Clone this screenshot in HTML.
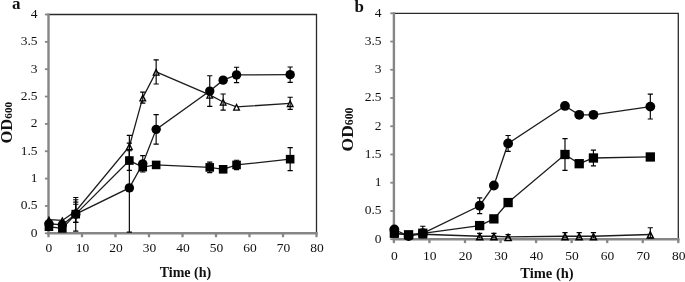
<!DOCTYPE html>
<html><head><meta charset="utf-8"><title>chart</title>
<style>
html,body{margin:0;padding:0;background:#fff;}
body{width:685px;height:282px;overflow:hidden;}
svg{display:block;will-change:transform;}
text{font-family:"Liberation Serif",serif;fill:#111;}
.tk{font-size:13.5px;}
.al{font-weight:bold;}
.od{font-size:15.3px;}
.pl{font-size:17px;font-weight:bold;}
</style></head><body>
<svg width="685" height="282" viewBox="0 0 685 282">
<rect width="685" height="282" fill="#fff"/>
<path d="M47.5,14.5 H316.5 V233.3" fill="none" stroke="#2a2a2a" stroke-width="1.3"/>
<path d="M48.5,13.6 V234.3" fill="none" stroke="#868686" stroke-width="2.4"/>
<path d="M47.3,233.3 H317.7" fill="none" stroke="#868686" stroke-width="2.6"/>
<path d="M44.9,233.30 H48.5" stroke="#868686" stroke-width="1.8"/>
<text x="37.6" y="236.60" text-anchor="end" class="tk">0</text>
<path d="M44.9,205.95 H48.5" stroke="#868686" stroke-width="1.8"/>
<text x="37.6" y="209.25" text-anchor="end" class="tk">0.5</text>
<path d="M44.9,178.60 H48.5" stroke="#868686" stroke-width="1.8"/>
<text x="37.6" y="181.90" text-anchor="end" class="tk">1</text>
<path d="M44.9,151.25 H48.5" stroke="#868686" stroke-width="1.8"/>
<text x="37.6" y="154.55" text-anchor="end" class="tk">1.5</text>
<path d="M44.9,123.90 H48.5" stroke="#868686" stroke-width="1.8"/>
<text x="37.6" y="127.20" text-anchor="end" class="tk">2</text>
<path d="M44.9,96.55 H48.5" stroke="#868686" stroke-width="1.8"/>
<text x="37.6" y="99.85" text-anchor="end" class="tk">2.5</text>
<path d="M44.9,69.20 H48.5" stroke="#868686" stroke-width="1.8"/>
<text x="37.6" y="72.50" text-anchor="end" class="tk">3</text>
<path d="M44.9,41.85 H48.5" stroke="#868686" stroke-width="1.8"/>
<text x="37.6" y="45.15" text-anchor="end" class="tk">3.5</text>
<path d="M44.9,14.50 H48.5" stroke="#868686" stroke-width="1.8"/>
<text x="37.6" y="17.80" text-anchor="end" class="tk">4</text>
<path d="M48.50,233.3 V237.20000000000002" stroke="#868686" stroke-width="2.3"/>
<text x="48.90" y="252.3" text-anchor="middle" class="tk">0</text>
<path d="M82.00,233.3 V237.20000000000002" stroke="#868686" stroke-width="2.3"/>
<text x="82.40" y="252.3" text-anchor="middle" class="tk">10</text>
<path d="M115.50,233.3 V237.20000000000002" stroke="#868686" stroke-width="2.3"/>
<text x="115.90" y="252.3" text-anchor="middle" class="tk">20</text>
<path d="M149.00,233.3 V237.20000000000002" stroke="#868686" stroke-width="2.3"/>
<text x="149.40" y="252.3" text-anchor="middle" class="tk">30</text>
<path d="M182.50,233.3 V237.20000000000002" stroke="#868686" stroke-width="2.3"/>
<text x="182.90" y="252.3" text-anchor="middle" class="tk">40</text>
<path d="M216.00,233.3 V237.20000000000002" stroke="#868686" stroke-width="2.3"/>
<text x="216.40" y="252.3" text-anchor="middle" class="tk">50</text>
<path d="M249.50,233.3 V237.20000000000002" stroke="#868686" stroke-width="2.3"/>
<text x="249.90" y="252.3" text-anchor="middle" class="tk">60</text>
<path d="M283.00,233.3 V237.20000000000002" stroke="#868686" stroke-width="2.3"/>
<text x="283.40" y="252.3" text-anchor="middle" class="tk">70</text>
<path d="M316.50,233.3 V237.20000000000002" stroke="#868686" stroke-width="2.3"/>
<text x="316.90" y="252.3" text-anchor="middle" class="tk">80</text>
<path d="M48.95,219.62 L62.35,220.45 L75.75,211.15 L129.35,146.33 L142.75,97.64 L156.15,71.94 L209.75,94.91 L223.15,102.02 L236.55,106.94 L290.15,103.28" fill="none" stroke="#1c1c1c" stroke-width="1.3"/>
<path d="M48.95,215.78 L52.85,223.47 H45.05 Z" fill="#000"/><path d="M48.95,218.65 L50.73,222.17 H47.17 Z" fill="#fff"/>
<path d="M62.35,216.60 L66.25,224.30 H58.45 Z" fill="#000"/><path d="M62.35,219.47 L64.13,223.00 H60.57 Z" fill="#fff"/>
<path d="M75.75,207.30 L79.65,215.00 H71.85 Z" fill="#000"/><path d="M75.75,210.17 L77.53,213.70 H73.97 Z" fill="#fff"/>
<path d="M129.35,142.48 L133.25,150.18 H125.45 Z" fill="#000"/><path d="M129.35,145.35 L131.13,148.88 H127.57 Z" fill="#fff"/>
<path d="M142.75,93.79 L146.65,101.49 H138.85 Z" fill="#000"/><path d="M142.75,96.67 L144.53,100.19 H140.97 Z" fill="#fff"/>
<path d="M156.15,68.09 L160.05,75.78 H152.25 Z" fill="#000"/><path d="M156.15,70.96 L157.93,74.48 H154.37 Z" fill="#fff"/>
<path d="M209.75,91.06 L213.65,98.76 H205.85 Z" fill="#000"/><path d="M209.75,93.94 L211.53,97.46 H207.97 Z" fill="#fff"/>
<path d="M223.15,98.17 L227.05,105.87 H219.25 Z" fill="#000"/><path d="M223.15,101.05 L224.93,104.57 H221.37 Z" fill="#fff"/>
<path d="M236.55,103.09 L240.45,110.79 H232.65 Z" fill="#000"/><path d="M236.55,105.97 L238.33,109.49 H234.77 Z" fill="#fff"/>
<path d="M290.15,99.43 L294.05,107.13 H286.25 Z" fill="#000"/><path d="M290.15,102.31 L291.93,105.83 H288.37 Z" fill="#fff"/>
<path d="M75.75,199.77 V222.36 M73.15,199.77 H78.35 M73.15,222.36 H78.35" stroke="#000" stroke-width="1.15" fill="none"/>
<path d="M129.35,135.39 V157.27 M126.75,135.39 H131.95 M126.75,157.27 H131.95" stroke="#000" stroke-width="1.15" fill="none"/>
<path d="M142.75,92.17 V103.11 M140.15,92.17 H145.35 M140.15,103.11 H145.35" stroke="#000" stroke-width="1.15" fill="none"/>
<path d="M156.15,59.90 V83.97 M153.55,59.90 H158.75 M153.55,83.97 H158.75" stroke="#000" stroke-width="1.15" fill="none"/>
<path d="M223.15,93.98 V110.06 M220.55,93.98 H225.75 M220.55,110.06 H225.75" stroke="#000" stroke-width="1.15" fill="none"/>
<path d="M290.15,97.26 V109.30 M287.55,97.26 H292.75 M287.55,109.30 H292.75" stroke="#000" stroke-width="1.15" fill="none"/>
<path d="M48.95,223.73 L62.35,224.82 L75.75,214.16 L129.35,187.90 L142.75,163.83 L156.15,129.37 L209.75,91.08 L223.15,80.14 L236.55,74.94 L290.15,74.67" fill="none" stroke="#1c1c1c" stroke-width="1.3"/>
<circle cx="48.95" cy="223.73" r="4.7" fill="#000"/>
<circle cx="62.35" cy="224.82" r="4.7" fill="#000"/>
<circle cx="75.75" cy="214.16" r="4.7" fill="#000"/>
<circle cx="129.35" cy="187.90" r="4.7" fill="#000"/>
<circle cx="142.75" cy="163.83" r="4.7" fill="#000"/>
<circle cx="156.15" cy="129.37" r="4.7" fill="#000"/>
<circle cx="209.75" cy="91.08" r="4.7" fill="#000"/>
<circle cx="223.15" cy="80.14" r="4.7" fill="#000"/>
<circle cx="236.55" cy="74.94" r="4.7" fill="#000"/>
<circle cx="290.15" cy="74.67" r="4.7" fill="#000"/>
<path d="M75.75,197.47 V231.11 M73.15,197.47 H78.35 M73.15,231.11 H78.35" stroke="#000" stroke-width="1.15" fill="none"/>
<path d="M129.35,143.05 V232.10 M126.75,143.05 H131.95 M126.75,232.10 H131.95" stroke="#000" stroke-width="1.15" fill="none"/>
<path d="M142.75,155.63 V172.04 M140.15,155.63 H145.35 M140.15,172.04 H145.35" stroke="#000" stroke-width="1.15" fill="none"/>
<path d="M156.15,114.60 V144.14 M153.55,114.60 H158.75 M153.55,144.14 H158.75" stroke="#000" stroke-width="1.15" fill="none"/>
<path d="M209.75,75.76 V106.40 M207.15,75.76 H212.35 M207.15,106.40 H212.35" stroke="#000" stroke-width="1.15" fill="none"/>
<path d="M236.55,67.29 V82.60 M233.95,67.29 H239.15 M233.95,82.60 H239.15" stroke="#000" stroke-width="1.15" fill="none"/>
<path d="M290.15,67.01 V82.33 M287.55,67.01 H292.75 M287.55,82.33 H292.75" stroke="#000" stroke-width="1.15" fill="none"/>
<path d="M48.95,226.74 L62.35,228.38 L75.75,214.16 L129.35,160.55 L142.75,167.11 L156.15,164.93 L209.75,167.39 L223.15,169.30 L236.55,164.93 L290.15,159.18" fill="none" stroke="#1c1c1c" stroke-width="1.3"/>
<rect x="44.65" y="222.44" width="8.6" height="8.6" fill="#000"/>
<rect x="58.05" y="224.08" width="8.6" height="8.6" fill="#000"/>
<rect x="71.45" y="209.85" width="8.6" height="8.6" fill="#000"/>
<rect x="125.05" y="156.25" width="8.6" height="8.6" fill="#000"/>
<rect x="138.45" y="162.81" width="8.6" height="8.6" fill="#000"/>
<rect x="151.85" y="160.62" width="8.6" height="8.6" fill="#000"/>
<rect x="205.45" y="163.09" width="8.6" height="8.6" fill="#000"/>
<rect x="218.85" y="165.00" width="8.6" height="8.6" fill="#000"/>
<rect x="232.25" y="160.62" width="8.6" height="8.6" fill="#000"/>
<rect x="285.85" y="154.88" width="8.6" height="8.6" fill="#000"/>
<path d="M75.75,204.20 V222.36 M73.15,204.20 H78.35 M73.15,222.36 H78.35" stroke="#000" stroke-width="1.15" fill="none"/>
<path d="M129.35,150.70 V170.40 M126.75,150.70 H131.95 M126.75,170.40 H131.95" stroke="#000" stroke-width="1.15" fill="none"/>
<path d="M142.75,164.38 V169.85 M140.15,164.38 H145.35 M140.15,169.85 H145.35" stroke="#000" stroke-width="1.15" fill="none"/>
<path d="M209.75,162.19 V172.58 M207.15,162.19 H212.35 M207.15,172.58 H212.35" stroke="#000" stroke-width="1.15" fill="none"/>
<path d="M236.55,160.28 V169.57 M233.95,160.28 H239.15 M233.95,169.57 H239.15" stroke="#000" stroke-width="1.15" fill="none"/>
<path d="M290.15,147.69 V170.67 M287.55,147.69 H292.75 M287.55,170.67 H292.75" stroke="#000" stroke-width="1.15" fill="none"/>
<path d="M73.15,202.12 H78.35" stroke="#000" stroke-width="1.15" fill="none"/>
<text x="12" y="8.8" class="pl">a</text>
<text x="185.4" y="277.3" text-anchor="middle" class="al" font-size="14">Time (h)</text>
<text transform="translate(11.7,122.7) rotate(-90)" text-anchor="middle" class="al"><tspan font-size="16.5">OD</tspan><tspan font-size="11.2">600</tspan></text>
<path d="M392.9,13.3 H678.3 V239.2" fill="none" stroke="#2a2a2a" stroke-width="1.3"/>
<path d="M393.9,12.4 V240.2" fill="none" stroke="#868686" stroke-width="2.4"/>
<path d="M392.7,239.2 H679.5" fill="none" stroke="#868686" stroke-width="2.6"/>
<path d="M390.29999999999995,239.20 H393.9" stroke="#868686" stroke-width="1.8"/>
<text x="381.59999999999997" y="242.50" text-anchor="end" class="tk">0</text>
<path d="M390.29999999999995,210.96 H393.9" stroke="#868686" stroke-width="1.8"/>
<text x="381.59999999999997" y="214.26" text-anchor="end" class="tk">0.5</text>
<path d="M390.29999999999995,182.72 H393.9" stroke="#868686" stroke-width="1.8"/>
<text x="381.59999999999997" y="186.03" text-anchor="end" class="tk">1</text>
<path d="M390.29999999999995,154.49 H393.9" stroke="#868686" stroke-width="1.8"/>
<text x="381.59999999999997" y="157.79" text-anchor="end" class="tk">1.5</text>
<path d="M390.29999999999995,126.25 H393.9" stroke="#868686" stroke-width="1.8"/>
<text x="381.59999999999997" y="129.55" text-anchor="end" class="tk">2</text>
<path d="M390.29999999999995,98.01 H393.9" stroke="#868686" stroke-width="1.8"/>
<text x="381.59999999999997" y="101.31" text-anchor="end" class="tk">2.5</text>
<path d="M390.29999999999995,69.78 H393.9" stroke="#868686" stroke-width="1.8"/>
<text x="381.59999999999997" y="73.08" text-anchor="end" class="tk">3</text>
<path d="M390.29999999999995,41.54 H393.9" stroke="#868686" stroke-width="1.8"/>
<text x="381.59999999999997" y="44.84" text-anchor="end" class="tk">3.5</text>
<path d="M390.29999999999995,13.30 H393.9" stroke="#868686" stroke-width="1.8"/>
<text x="381.59999999999997" y="16.60" text-anchor="end" class="tk">4</text>
<path d="M393.90,239.2 V243.1" stroke="#868686" stroke-width="2.3"/>
<text x="394.30" y="260.0" text-anchor="middle" class="tk">0</text>
<path d="M429.45,239.2 V243.1" stroke="#868686" stroke-width="2.3"/>
<text x="429.85" y="260.0" text-anchor="middle" class="tk">10</text>
<path d="M465.00,239.2 V243.1" stroke="#868686" stroke-width="2.3"/>
<text x="465.40" y="260.0" text-anchor="middle" class="tk">20</text>
<path d="M500.55,239.2 V243.1" stroke="#868686" stroke-width="2.3"/>
<text x="500.95" y="260.0" text-anchor="middle" class="tk">30</text>
<path d="M536.10,239.2 V243.1" stroke="#868686" stroke-width="2.3"/>
<text x="536.50" y="260.0" text-anchor="middle" class="tk">40</text>
<path d="M571.65,239.2 V243.1" stroke="#868686" stroke-width="2.3"/>
<text x="572.05" y="260.0" text-anchor="middle" class="tk">50</text>
<path d="M607.20,239.2 V243.1" stroke="#868686" stroke-width="2.3"/>
<text x="607.60" y="260.0" text-anchor="middle" class="tk">60</text>
<path d="M642.75,239.2 V243.1" stroke="#868686" stroke-width="2.3"/>
<text x="643.15" y="260.0" text-anchor="middle" class="tk">70</text>
<path d="M678.30,239.2 V243.1" stroke="#868686" stroke-width="2.3"/>
<text x="678.70" y="260.0" text-anchor="middle" class="tk">80</text>
<path d="M394.35,233.55 L408.57,234.68 L422.79,234.23 L479.67,236.26 L493.89,236.26 L508.11,236.94 L564.99,236.26 L579.21,236.26 L593.43,236.26 L650.31,234.51" fill="none" stroke="#1c1c1c" stroke-width="1.3"/>
<path d="M394.35,229.30 L398.60,237.80 H390.10 Z" fill="#000"/><path d="M394.35,232.66 L396.17,236.30 H392.53 Z" fill="#fff"/>
<path d="M408.57,230.43 L412.82,238.93 H404.32 Z" fill="#000"/><path d="M408.57,233.79 L410.39,237.43 H406.75 Z" fill="#fff"/>
<path d="M422.79,229.98 L427.04,238.48 H418.54 Z" fill="#000"/><path d="M422.79,233.33 L424.61,236.98 H420.97 Z" fill="#fff"/>
<path d="M479.67,232.01 L483.92,240.51 H475.42 Z" fill="#000"/><path d="M479.67,235.37 L481.49,239.01 H477.85 Z" fill="#fff"/>
<path d="M493.89,232.01 L498.14,240.51 H489.64 Z" fill="#000"/><path d="M493.89,235.37 L495.71,239.01 H492.07 Z" fill="#fff"/>
<path d="M508.11,232.69 L512.36,241.19 H503.86 Z" fill="#000"/><path d="M508.11,236.05 L509.93,239.69 H506.29 Z" fill="#fff"/>
<path d="M564.99,232.01 L569.24,240.51 H560.74 Z" fill="#000"/><path d="M564.99,235.37 L566.81,239.01 H563.17 Z" fill="#fff"/>
<path d="M579.21,232.01 L583.46,240.51 H574.96 Z" fill="#000"/><path d="M579.21,235.37 L581.03,239.01 H577.39 Z" fill="#fff"/>
<path d="M593.43,232.01 L597.68,240.51 H589.18 Z" fill="#000"/><path d="M593.43,235.37 L595.25,239.01 H591.61 Z" fill="#fff"/>
<path d="M650.31,230.26 L654.56,238.76 H646.06 Z" fill="#000"/><path d="M650.31,233.62 L652.13,237.26 H648.49 Z" fill="#fff"/>
<path d="M394.35,231.86 V235.25 M391.75,231.86 H396.95 M391.75,235.25 H396.95" stroke="#000" stroke-width="1.15" fill="none"/>
<path d="M408.57,233.55 V235.81 M405.97,233.55 H411.17 M405.97,235.81 H411.17" stroke="#000" stroke-width="1.15" fill="none"/>
<path d="M422.79,233.10 V235.36 M420.19,233.10 H425.39 M420.19,235.36 H425.39" stroke="#000" stroke-width="1.15" fill="none"/>
<path d="M479.67,233.44 V238.00 M477.07,233.44 H482.27 M477.07,238.00 H482.27" stroke="#000" stroke-width="1.15" fill="none"/>
<path d="M493.89,233.44 V238.00 M491.29,233.44 H496.49 M491.29,238.00 H496.49" stroke="#000" stroke-width="1.15" fill="none"/>
<path d="M508.11,234.68 V238.00 M505.51,234.68 H510.71 M505.51,238.00 H510.71" stroke="#000" stroke-width="1.15" fill="none"/>
<path d="M564.99,232.59 V238.00 M562.39,232.59 H567.59 M562.39,238.00 H567.59" stroke="#000" stroke-width="1.15" fill="none"/>
<path d="M579.21,232.59 V238.00 M576.61,232.59 H581.81 M576.61,238.00 H581.81" stroke="#000" stroke-width="1.15" fill="none"/>
<path d="M593.43,232.59 V238.00 M590.83,232.59 H596.03 M590.83,238.00 H596.03" stroke="#000" stroke-width="1.15" fill="none"/>
<path d="M650.31,227.74 V238.00 M647.71,227.74 H652.91 M647.71,238.00 H652.91" stroke="#000" stroke-width="1.15" fill="none"/>
<path d="M394.35,229.49 L408.57,236.04 L422.79,233.27 L479.67,205.71 L493.89,185.49 L508.11,143.42 L564.99,105.92 L579.21,114.79 L593.43,114.79 L650.31,106.60" fill="none" stroke="#1c1c1c" stroke-width="1.3"/>
<circle cx="394.35" cy="229.49" r="4.9" fill="#000"/>
<circle cx="408.57" cy="236.04" r="4.9" fill="#000"/>
<circle cx="422.79" cy="233.27" r="4.9" fill="#000"/>
<circle cx="479.67" cy="205.71" r="4.9" fill="#000"/>
<circle cx="493.89" cy="185.49" r="4.9" fill="#000"/>
<circle cx="508.11" cy="143.42" r="4.9" fill="#000"/>
<circle cx="564.99" cy="105.92" r="4.9" fill="#000"/>
<circle cx="579.21" cy="114.79" r="4.9" fill="#000"/>
<circle cx="593.43" cy="114.79" r="4.9" fill="#000"/>
<circle cx="650.31" cy="106.60" r="4.9" fill="#000"/>
<path d="M422.79,226.21 V233.27 M420.19,226.21 H425.39 M420.19,233.27 H425.39" stroke="#000" stroke-width="1.15" fill="none"/>
<path d="M479.67,197.80 V213.62 M477.07,197.80 H482.27 M477.07,213.62 H482.27" stroke="#000" stroke-width="1.15" fill="none"/>
<path d="M508.11,135.51 V151.32 M505.51,135.51 H510.71 M505.51,151.32 H510.71" stroke="#000" stroke-width="1.15" fill="none"/>
<path d="M650.31,94.17 V119.02 M647.71,94.17 H652.91 M647.71,119.02 H652.91" stroke="#000" stroke-width="1.15" fill="none"/>
<path d="M394.35,233.10 L408.57,234.79 L422.79,233.27 L479.67,225.59 L493.89,218.87 L508.11,202.55 L564.99,154.49 L579.21,163.69 L593.43,157.99 L650.31,156.97" fill="none" stroke="#1c1c1c" stroke-width="1.3"/>
<rect x="389.70" y="228.45" width="9.3" height="9.3" fill="#000"/>
<rect x="403.92" y="230.14" width="9.3" height="9.3" fill="#000"/>
<rect x="418.14" y="228.62" width="9.3" height="9.3" fill="#000"/>
<rect x="475.02" y="220.94" width="9.3" height="9.3" fill="#000"/>
<rect x="489.24" y="214.22" width="9.3" height="9.3" fill="#000"/>
<rect x="503.46" y="197.90" width="9.3" height="9.3" fill="#000"/>
<rect x="560.34" y="149.84" width="9.3" height="9.3" fill="#000"/>
<rect x="574.56" y="159.04" width="9.3" height="9.3" fill="#000"/>
<rect x="588.78" y="153.34" width="9.3" height="9.3" fill="#000"/>
<rect x="645.66" y="152.32" width="9.3" height="9.3" fill="#000"/>
<path d="M564.99,138.67 V170.30 M562.39,138.67 H567.59 M562.39,170.30 H567.59" stroke="#000" stroke-width="1.15" fill="none"/>
<path d="M593.43,150.08 V165.90 M590.83,150.08 H596.03 M590.83,165.90 H596.03" stroke="#000" stroke-width="1.15" fill="none"/>
<text x="354.5" y="11.7" class="pl">b</text>
<text x="547" y="277.6" text-anchor="middle" class="al" font-size="14.5">Time (h)</text>
<text transform="translate(352.8,129.5) rotate(-90)" text-anchor="middle" class="al"><tspan font-size="17.5">OD</tspan><tspan font-size="11.8">600</tspan></text>
</svg>
</body></html>
